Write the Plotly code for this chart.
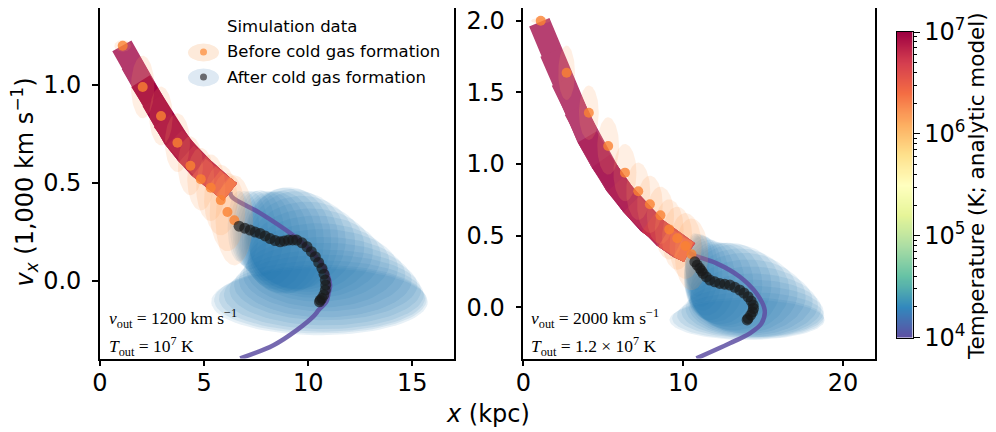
import numpy as np
import plotly.graph_objects as go

# ---------------- data ----------------
# Panel A: v_out = 1200 km/s, T_out = 1e7 K
# analytic model, hot phase (thick band) : x [kpc], v_x [1000 km/s], log10 T
a_hot_x = [1.05, 1.5, 1.95, 2.5, 3.0, 3.55, 4.15, 4.75, 5.45, 5.9, 6.25]
a_hot_v = [1.20, 1.11, 1.02, 0.92, 0.82, 0.73, 0.65, 0.58, 0.52, 0.485, 0.455]
a_hot_logT = [7.0, 7.0, 7.0, 6.99, 6.98, 6.95, 6.9, 6.8, 6.68, 6.55, 6.42]
# analytic model, cooled phase (T ~ 1e4 K)
a_cold_x = [6.25, 6.33, 7.69, 9.13, 10.1, 10.82, 11.05, 10.98, 10.87, 10.5, 10.25, 9.45, 8.33, 6.73]
a_cold_v = [0.455, 0.43, 0.347, 0.245, 0.158, 0.056, -0.02, -0.06, -0.105, -0.148, -0.18, -0.25, -0.327, -0.394]
# simulation data before cold gas formation: median and spread
a_pre_x = [1.09, 2.05, 2.93, 3.72, 4.34, 4.84, 5.32, 5.80, 6.12, 6.45]
a_pre_v = [1.20, 0.99, 0.842, 0.706, 0.588, 0.52, 0.476, 0.413, 0.352, 0.31]
a_pre_sx = [0.4, 0.56, 0.56, 0.6, 0.6, 0.65, 0.7, 0.8, 0.85, 0.9]
a_pre_sv = [0.03, 0.16, 0.15, 0.15, 0.15, 0.16, 0.17, 0.18, 0.2, 0.23]
# simulation data after cold gas formation: median and spread
a_post_x = [6.68, 6.95, 7.21, 7.45, 7.69, 7.93, 8.17, 8.41, 8.65, 8.85, 9.05, 9.25, 9.45, 9.7,
            9.94, 10.15, 10.34, 10.5, 10.66, 10.76, 10.82, 10.84, 10.82, 10.75, 10.66, 10.58, 10.54]
a_post_v = [0.28, 0.27, 0.26, 0.25, 0.243, 0.23, 0.217, 0.207, 0.2, 0.205, 0.209, 0.21, 0.209, 0.195,
            0.175, 0.15, 0.124, 0.095, 0.065, 0.035, 0.005, -0.02, -0.046, -0.07, -0.088, -0.097, -0.106]
a_post_sx = [0.55, 0.7, 0.85, 1.0, 1.15, 1.3, 1.45, 1.6, 1.75, 1.9, 2.05, 2.2, 2.35, 2.55,
             2.75, 2.95, 3.15, 3.4, 3.65, 3.9, 4.15, 4.4, 4.6, 4.8, 4.95, 5.1, 5.2]
a_post_sv = [0.18, 0.19, 0.2, 0.21, 0.22, 0.23, 0.24, 0.25, 0.26, 0.27, 0.27, 0.26, 0.25, 0.24,
             0.23, 0.22, 0.21, 0.2, 0.2, 0.19, 0.19, 0.18, 0.18, 0.175, 0.17, 0.17, 0.17]

# Panel B: v_out = 2000 km/s, T_out = 1.2e7 K
b_hot_x = [1.0, 1.7, 2.4, 3.2, 4.0, 4.85, 5.75, 6.75, 7.8, 8.8, 9.7, 10.35]
b_hot_v = [1.99, 1.78, 1.58, 1.38, 1.19, 1.02, 0.86, 0.72, 0.59, 0.49, 0.42, 0.385]
b_hot_logT = [7.08, 7.08, 7.08, 7.07, 7.05, 7.02, 6.98, 6.93, 6.85, 6.72, 6.58, 6.45]
b_cold_x = [10.35, 10.63, 12.09, 13.54, 14.58, 15.1, 14.9, 14.17, 12.92, 10.83]
b_cold_v = [0.385, 0.365, 0.307, 0.214, 0.098, -0.019, -0.112, -0.181, -0.251, -0.356]
b_pre_x = [1.09, 2.71, 4.1, 5.31, 6.36, 7.19, 7.92, 8.58, 9.13, 9.63, 10.15, 10.52]
b_pre_v = [2.0, 1.637, 1.358, 1.126, 0.94, 0.81, 0.719, 0.642, 0.544, 0.482, 0.428, 0.37]
b_pre_sx = [0.6, 0.52, 0.62, 0.68, 0.72, 0.75, 0.8, 0.85, 0.9, 0.95, 1.0, 1.05]
b_pre_sv = [0.02, 0.19, 0.19, 0.2, 0.2, 0.2, 0.2, 0.2, 0.21, 0.22, 0.23, 0.25]
b_post_x = [10.73, 10.88, 11.04, 11.15, 11.25, 11.45, 11.67, 11.98, 12.29, 12.6, 12.92,
            13.23, 13.54, 13.8, 14.06, 14.25, 14.38, 14.4, 14.34, 14.22, 14.06, 14.0]
b_post_v = [0.318, 0.295, 0.272, 0.255, 0.237, 0.212, 0.19, 0.178, 0.167, 0.162, 0.156,
            0.14, 0.121, 0.1, 0.074, 0.045, 0.016, -0.008, -0.031, -0.055, -0.077, -0.088]
b_post_sx = [0.6, 0.75, 0.9, 1.05, 1.2, 1.4, 1.6, 1.85, 2.1, 2.35, 2.6,
             2.85, 3.1, 3.35, 3.6, 3.85, 4.05, 4.25, 4.45, 4.6, 4.75, 4.85]
b_post_sv = [0.2, 0.22, 0.24, 0.25, 0.26, 0.27, 0.28, 0.28, 0.285, 0.29, 0.295,
             0.3, 0.29, 0.28, 0.26, 0.24, 0.22, 0.2, 0.18, 0.16, 0.145, 0.14]

x_ticks_a = [0, 5, 10, 15]
x_ticks_b = [0, 10, 20]
y_ticks_a = [0.0, 0.5, 1.0]
y_ticks_b = [0.0, 0.5, 1.0, 1.5, 2.0]
cbar_ticks = [4, 5, 6, 7]
cbar_labels = ["10<sup>4</sup>", "10<sup>5</sup>", "10<sup>6</sup>", "10<sup>7</sup>"]

# ---------------- styles ----------------
SPECTRAL_R = [(94, 79, 162), (50, 136, 189), (102, 194, 165), (171, 221, 164), (230, 245, 152),
              (255, 255, 191), (254, 224, 139), (253, 174, 97), (244, 109, 67), (213, 62, 79),
              (158, 1, 66)]
colorscale = [[i / 10, "rgb(%d,%d,%d)" % c] for i, c in enumerate(SPECTRAL_R)]
band_alpha_a = [0.78, 0.78, 1, 1, 1, 1, 1, 1, 1, 1]
band_alpha_b = [0.75, 0.75, 0.75, 0.75, 0.85, 0.88, 0.9, 0.92, 1, 1, 1]
FONT = "DejaVu Sans"
SERIF = "Liberation Serif"
TICK_SIZE = 24


def cmap(logT, alpha=1.0):
    p = min(max((logT - 4) / 3, 0), 1) * 10
    i = min(int(p), 9)
    f = p - i
    c = [SPECTRAL_R[i][k] * (1 - f) + SPECTRAL_R[i + 1][k] * f for k in range(3)]
    c = [v * alpha + 255 * (1 - alpha) for v in c]
    return "rgb(%d,%d,%d)" % tuple(round(v) for v in c)


fig = go.Figure()
t = np.linspace(0, 2 * np.pi, 90)


def add_panel(xa, ya, hot_x, hot_v, hot_logT, band_alpha, cold_x, cold_v,
              pre_x, pre_v, pre_sx, pre_sv, post_x, post_v, post_sx, post_sv):
    # blue spread ellipses (after cold gas formation)
    for cx, cy, sx, sy in zip(post_x, post_v, post_sx, post_sv):
        fig.add_trace(go.Scatter(x=cx + sx * np.cos(t), y=cy + sy * np.sin(t), mode="lines",
                                 fill="toself", fillcolor="rgba(31,119,180,0.1)",
                                 line=dict(width=0), hoverinfo="skip", showlegend=False,
                                 xaxis=xa, yaxis=ya))
    # cooled analytic model: thin line
    fig.add_trace(go.Scatter(x=cold_x, y=cold_v, mode="lines",
                             line=dict(color="rgba(94,79,162,0.85)", width=4.5, shape="spline"),
                             hoverinfo="skip", showlegend=False, xaxis=xa, yaxis=ya))
    # hot analytic model: thick band coloured by temperature
    n = len(hot_x)
    for k in range(n - 1):
        col = cmap(0.5 * (hot_logT[k] + hot_logT[k + 1]), band_alpha[k])
        fig.add_trace(go.Scatter(x=hot_x[k:], y=hot_v[k:], mode="lines",
                                 line=dict(color=col, width=22),
                                 hoverinfo="skip", showlegend=False, xaxis=xa, yaxis=ya))
    # orange spread ellipses (before cold gas formation)
    for cx, cy, sx, sy in zip(pre_x, pre_v, pre_sx, pre_sv):
        fig.add_trace(go.Scatter(x=cx + sx * np.cos(t), y=cy + sy * np.sin(t), mode="lines",
                                 fill="toself", fillcolor="rgba(253,160,90,0.17)",
                                 line=dict(width=0), hoverinfo="skip", showlegend=False,
                                 xaxis=xa, yaxis=ya))
    fig.add_trace(go.Scatter(x=pre_x, y=pre_v, mode="markers",
                             marker=dict(size=10, color="rgba(250,130,50,0.8)", line=dict(width=0)),
                             hoverinfo="skip", showlegend=False, xaxis=xa, yaxis=ya))
    fig.add_trace(go.Scatter(x=post_x, y=post_v, mode="markers",
                             marker=dict(size=11, color="rgba(25,25,25,0.68)", line=dict(width=0)),
                             hoverinfo="skip", showlegend=False, xaxis=xa, yaxis=ya))


add_panel("x", "y", a_hot_x, a_hot_v, a_hot_logT, band_alpha_a, a_cold_x, a_cold_v,
          a_pre_x, a_pre_v, a_pre_sx, a_pre_sv, a_post_x, a_post_v, a_post_sx, a_post_sv)
add_panel("x2", "y2", b_hot_x, b_hot_v, b_hot_logT, band_alpha_b, b_cold_x, b_cold_v,
          b_pre_x, b_pre_v, b_pre_sx, b_pre_sv, b_post_x, b_post_v, b_post_sx, b_post_sv)

# colour bar drawn as its own small axis
levels = np.linspace(4, 7, 301)
fig.add_trace(go.Heatmap(x=[0, 1], y=levels, z=[[v, v] for v in levels], zmin=4, zmax=7,
                         colorscale=colorscale, showscale=False, zsmooth="best",
                         hoverinfo="skip", xaxis="x3", yaxis="y3"))

# page is shown with the browser's 8px body margin: lay out in page pixels
OFF = 8
W, H = 996 - OFF, 432 - OFF


def px(x):
    return (x - OFF) / W


def py(y):
    return min(1.0, 1 - (y - OFF) / H)


ydom = [py(358.5), py(8)]
axis_common = dict(showline=True, linecolor="black", linewidth=1.6, mirror=True, automargin=False,
                   ticks="outside", ticklen=6, tickwidth=1.6, tickcolor="black",
                   showgrid=False, zeroline=False, ticklabeloverflow="allow",
                   tickfont=dict(family=FONT, size=TICK_SIZE, color="black"))

fig.update_layout(
    template="none",
    width=W, height=H, margin=dict(l=0, r=0, t=0, b=0, autoexpand=False),
    paper_bgcolor="white", plot_bgcolor="white", showlegend=False, hovermode=False,
    font=dict(family=FONT, color="black"),
    xaxis=dict(domain=[px(100), px(454)], range=[0, 17], tickvals=x_ticks_a, anchor="y",
               ticklabelstandoff=-4, **axis_common),
    yaxis=dict(domain=ydom, range=[-0.395, 1.393], tickvals=y_ticks_a, tickformat=".1f", anchor="x",
               ticklabelstandoff=6, **axis_common),
    xaxis2=dict(domain=[px(523.3), px(875)], range=[0, 22], tickvals=x_ticks_b, anchor="y2",
                ticklabelstandoff=-4, **axis_common),
    yaxis2=dict(domain=ydom, range=[-0.357, 2.089], tickvals=y_ticks_b, tickformat=".1f", anchor="x2",
                ticklabelstandoff=6, **axis_common),
    xaxis3=dict(domain=[px(896.7), px(912.5)], range=[-0.5, 1.5], anchor="y3", showline=True,
                linecolor="black", linewidth=1, mirror=True, showticklabels=False, ticks="",
                showgrid=False, zeroline=False, automargin=False),
    yaxis3=dict(domain=[py(337.5), py(32)], range=[4, 7], anchor="x3", side="right", showline=True,
                linecolor="black", linewidth=1, mirror=True, ticks="outside", ticklen=6, tickwidth=1.4,
                tickcolor="black", tickvals=cbar_ticks, ticktext=cbar_labels, showgrid=False,
                zeroline=False, automargin=False, ticklabeloverflow="allow",
                tickfont=dict(family=FONT, size=TICK_SIZE, color="black"),
                minor=dict(tickvals=[float(np.log10(k * 10 ** m)) for m in (4, 5, 6) for k in range(2, 10)],
                           ticks="outside", ticklen=3, tickwidth=1, tickcolor="black", showgrid=False)),
)


def note(text, x, y, size, family=FONT, angle=0, xanchor="center"):
    return dict(text=text, x=px(x), y=py(y), xref="paper", yref="paper", textangle=angle,
                xanchor=xanchor, yanchor="middle", showarrow=False,
                font=dict(family=family, size=size, color="black"))


ann = [
    note("<i>v<sub>x</sub></i> (1,000 km s<sup>−1</sup>)", 24, 182.5, 24, angle=-90),
    note("<i>x</i> (kpc)", 488, 414, 24),
    note("Temperature (K; analytic model)", 977, 186, 21.5, angle=-90),
    # legend
    note("Simulation data", 225, 27, 16.5, xanchor="left"),
    note("Before cold gas formation", 225, 52, 16.5, xanchor="left"),
    note("After cold gas formation", 225, 77, 16.5, xanchor="left"),
]
# parameter labels
for xl, l1, l2 in [(107, "<i>v</i><sub>out</sub> = 1200 km s<sup>−1</sup>",
                    "<i>T</i><sub>out</sub> = 10<sup>7</sup> K"),
                   (529, "<i>v</i><sub>out</sub> = 2000 km s<sup>−1</sup>",
                    "<i>T</i><sub>out</sub> = 1.2 × 10<sup>7</sup> K")]:
    ann.append(note(l1, xl, 318, 17.5, family=SERIF, xanchor="left"))
    ann.append(note(l2, xl, 346, 17.5, family=SERIF, xanchor="left"))
fig.update_layout(annotations=ann)

shapes = []
for yc, ecol, dcol in [(52.5, "rgb(253,234,218)", "rgb(253,165,100)"),
                       (77.5, "rgb(222,233,243)", "rgb(105,105,110)")]:
    shapes.append(dict(type="circle", xref="paper", yref="paper", x0=px(188), x1=px(219),
                       y0=py(yc + 9), y1=py(yc - 9), fillcolor=ecol, line=dict(width=0)))
    shapes.append(dict(type="circle", xref="paper", yref="paper", x0=px(200), x1=px(207),
                       y0=py(yc + 3), y1=py(yc - 4), fillcolor=dcol, line=dict(width=0)))
fig.update_layout(shapes=shapes)

fig.write_html("out.html")
